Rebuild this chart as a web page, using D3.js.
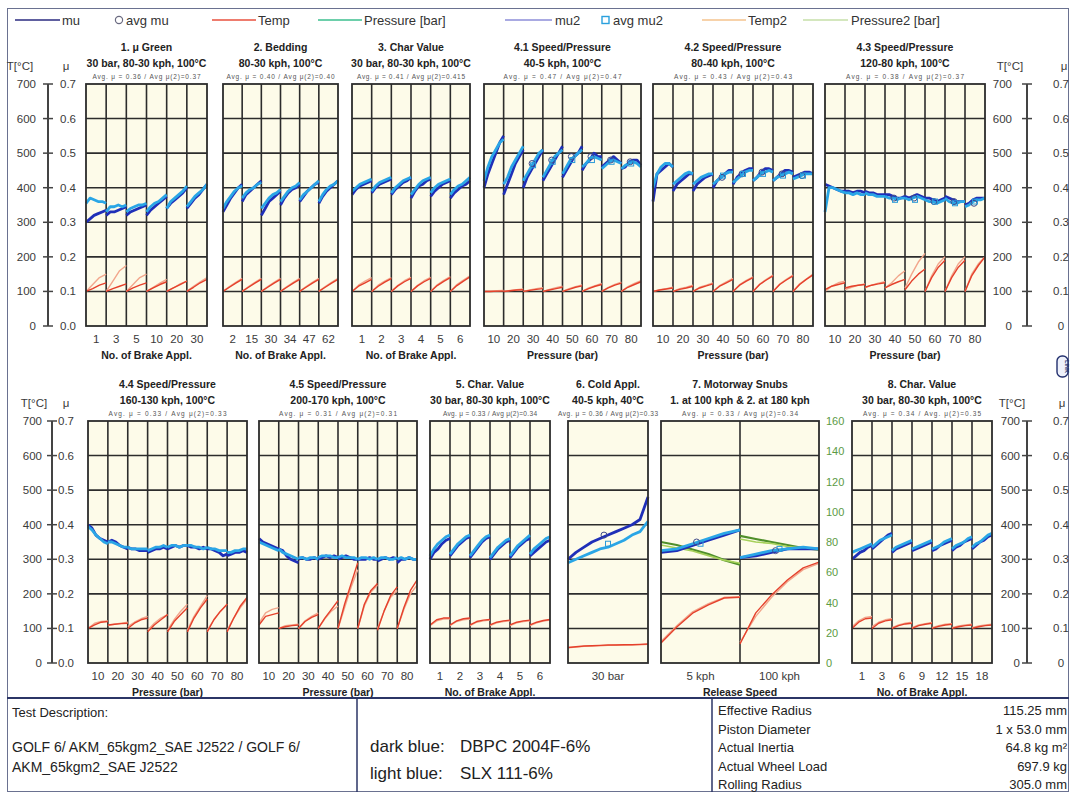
<!DOCTYPE html>
<html><head><meta charset="utf-8">
<script src="https://cdn.jsdelivr.net/npm/d3@7"></script>
<style>
body{margin:0;background:#fff}
svg{display:block;font-family:"Liberation Sans",Arial,sans-serif}
</style>
</head><body><script>
// ---------- brake test data: one inner array per column (brake application block) ----------
// 1. mu Green
const green_ticks = ['1','3','5','10','20','30'];
const green_mu  = [[0.30,0.31,0.32,0.325,0.33,0.335],[0.32,0.33,0.33,0.335,0.34,0.345],[0.32,0.33,0.335,0.34,0.345,0.35],[0.32,0.335,0.345,0.355,0.365,0.375],[0.34,0.355,0.365,0.375,0.385,0.40],[0.34,0.355,0.37,0.38,0.395,0.41]];
const green_mu2 = [[0.355,0.37,0.365,0.36,0.36,0.355],[0.33,0.345,0.345,0.35,0.345,0.35],[0.33,0.34,0.345,0.35,0.35,0.355],[0.33,0.345,0.355,0.36,0.37,0.38],[0.34,0.36,0.37,0.38,0.39,0.405],[0.345,0.36,0.375,0.385,0.395,0.41]];
const green_temp  = [[100,108,118,125],[100,108,115,122],[100,110,118,125],[100,110,120,128],[100,110,120,130],[100,112,125,135]];
const green_temp2 = [[100,120,140,150],[100,130,160,175],[100,120,140,150],[100,112,124,135],[100,110,122,130],[100,115,128,140]];
// 2. Bedding
const bed_ticks = ['2','15','30','34','47','62'];
const bed_mu  = [[0.33,0.35,0.37,0.385,0.40,0.41],[0.36,0.38,0.39,0.40,0.41,0.42],[0.32,0.34,0.36,0.37,0.38,0.39],[0.35,0.37,0.385,0.395,0.40,0.41],[0.36,0.375,0.39,0.40,0.41,0.415],[0.355,0.375,0.39,0.40,0.41,0.42]];
const bed_mu2 = [[0.34,0.36,0.375,0.39,0.40,0.405],[0.37,0.385,0.395,0.40,0.41,0.415],[0.34,0.355,0.37,0.38,0.385,0.395],[0.36,0.375,0.39,0.40,0.405,0.415],[0.365,0.38,0.39,0.40,0.41,0.42],[0.36,0.38,0.395,0.405,0.41,0.42]];
const bed_temp  = [[100,112,124,135],[100,112,124,135],[100,112,124,135],[100,112,124,135],[100,112,124,135],[100,112,124,135]];
const bed_temp2 = [[100,114,126,138],[100,114,126,138],[100,114,126,138],[100,114,126,138],[100,114,126,138],[100,114,126,138]];
// 3. Char Value
const char3_ticks = ['1','2','3','4','5','6'];
const char3_mu  = [[0.38,0.395,0.405,0.41,0.415,0.42],[0.385,0.40,0.41,0.415,0.42,0.425],[0.38,0.395,0.405,0.415,0.42,0.43],[0.37,0.39,0.405,0.41,0.42,0.425],[0.375,0.39,0.40,0.41,0.415,0.42],[0.37,0.385,0.395,0.405,0.41,0.42]];
const char3_mu2 = [[0.39,0.40,0.41,0.415,0.42,0.425],[0.39,0.405,0.415,0.42,0.425,0.43],[0.385,0.40,0.41,0.42,0.425,0.43],[0.38,0.395,0.41,0.42,0.425,0.43],[0.385,0.40,0.41,0.415,0.42,0.425],[0.38,0.395,0.405,0.41,0.42,0.43]];
const char3_temp  = [[100,115,125,135],[100,115,127,137],[100,116,128,138],[100,116,128,138],[100,117,129,140],[100,117,130,142]];
const char3_temp2 = [[100,118,130,140],[100,118,130,140],[100,118,131,141],[100,118,131,141],[100,119,132,143],[100,120,133,145]];
// 4.1 Speed/Pressure 40-5 kph
const pres_ticks = ['10','20','30','40','50','60','70','80'];
const sp41_mu  = [[0.40,0.44,0.47,0.50,0.53,0.55],[0.38,0.41,0.44,0.47,0.49,0.51],[0.40,0.43,0.45,0.47,0.49,0.51],[0.42,0.44,0.46,0.48,0.50,0.52],[0.43,0.45,0.47,0.49,0.50,0.52],[0.45,0.47,0.48,0.50,0.49,0.49],[0.46,0.47,0.48,0.49,0.48,0.47],[0.455,0.46,0.475,0.48,0.48,0.465]];
const sp41_mu2 = [[0.42,0.46,0.49,0.51,0.53,0.54],[0.41,0.43,0.46,0.48,0.50,0.52],[0.42,0.44,0.46,0.48,0.50,0.51],[0.43,0.45,0.47,0.49,0.50,0.51],[0.44,0.46,0.48,0.49,0.50,0.51],[0.46,0.47,0.485,0.49,0.485,0.48],[0.455,0.465,0.475,0.48,0.475,0.47],[0.455,0.465,0.47,0.475,0.47,0.46]];
const sp41_temp  = [[100,100,101,101],[100,102,104,105],[100,103,106,108],[100,104,108,112],[100,106,112,116],[100,108,115,120],[100,110,118,124],[100,112,120,128]];
const sp41_temp2 = [[100,101,102,103],[100,103,105,107],[100,104,108,111],[100,106,111,115],[100,108,114,119],[100,110,117,123],[100,112,120,127],[100,114,123,131]];
const sp41_avg  = [null,null,0.47,0.48,0.49,0.49,0.48,0.475];
const sp41_avg2 = [null,null,0.465,0.475,0.48,0.48,0.475,0.47];
// 4.2 Speed/Pressure 80-40 kph
const sp42_mu  = [[0.36,0.44,0.45,0.46,0.47,0.46],[0.39,0.41,0.42,0.43,0.44,0.44],[0.39,0.41,0.42,0.43,0.435,0.44],[0.40,0.42,0.43,0.44,0.45,0.45],[0.41,0.43,0.44,0.45,0.455,0.455],[0.42,0.43,0.445,0.455,0.455,0.45],[0.42,0.43,0.44,0.45,0.45,0.445],[0.43,0.435,0.44,0.445,0.445,0.44]];
const sp42_mu2 = [[0.40,0.44,0.46,0.47,0.47,0.46],[0.41,0.42,0.43,0.44,0.445,0.44],[0.41,0.42,0.43,0.435,0.44,0.44],[0.41,0.42,0.43,0.44,0.445,0.445],[0.415,0.425,0.435,0.445,0.45,0.45],[0.42,0.43,0.44,0.445,0.45,0.445],[0.42,0.43,0.435,0.44,0.445,0.44],[0.425,0.43,0.435,0.44,0.44,0.44]];
const sp42_temp  = [[100,104,107,110],[100,106,110,115],[100,110,116,122],[100,115,125,135],[100,118,130,140],[100,120,133,145],[100,120,133,145],[100,120,135,148]];
const sp42_temp2 = [[100,105,108,112],[100,108,112,118],[100,112,118,125],[100,117,128,138],[100,120,132,142],[100,121,135,147],[100,121,135,147],[100,122,136,150]];
const sp42_avg  = [null,null,null,0.43,0.44,0.445,0.44,0.435];
const sp42_avg2 = [null,null,null,0.435,0.44,0.44,0.435,0.435];
// 4.3 Speed/Pressure 120-80 kph
const sp43_mu  = [[0.41,0.405,0.40,0.395,0.39,0.39],[0.39,0.39,0.385,0.39,0.39,0.385],[0.39,0.385,0.385,0.38,0.38,0.38],[0.38,0.38,0.375,0.37,0.37,0.375],[0.375,0.37,0.375,0.38,0.375,0.37],[0.37,0.37,0.365,0.36,0.365,0.37],[0.375,0.37,0.365,0.36,0.36,0.36],[0.35,0.355,0.365,0.37,0.37,0.37]];
const sp43_mu2 = [[0.33,0.40,0.40,0.395,0.39,0.385],[0.385,0.385,0.38,0.385,0.38,0.38],[0.385,0.38,0.38,0.375,0.375,0.375],[0.375,0.37,0.37,0.365,0.37,0.37],[0.37,0.365,0.37,0.375,0.37,0.365],[0.365,0.36,0.36,0.355,0.36,0.365],[0.37,0.36,0.355,0.355,0.36,0.36],[0.345,0.35,0.36,0.365,0.365,0.37]];
const sp43_temp  = [[105,115,120,125],[110,115,118,120],[112,118,122,125],[110,120,128,135],[105,130,150,165],[100,140,170,190],[100,140,170,190],[100,145,175,200]];
const sp43_temp2 = [[100,115,125,130],[105,112,118,122],[110,118,124,128],[110,125,145,160],[110,150,185,210],[100,145,180,200],[100,145,180,200],[100,150,180,200]];
const sp43_avg  = [null,null,null,0.37,0.37,0.36,0.36,0.355];
const sp43_avg2 = [null,null,null,0.365,0.365,0.36,0.355,0.36];
// 4.4 Speed/Pressure 160-130 kph
const sp44_mu  = [[0.40,0.39,0.37,0.36,0.355,0.35],[0.35,0.355,0.35,0.34,0.335,0.33],[0.335,0.33,0.33,0.325,0.325,0.325],[0.32,0.325,0.33,0.33,0.335,0.33],[0.33,0.335,0.34,0.335,0.34,0.34],[0.34,0.335,0.335,0.33,0.335,0.33],[0.33,0.33,0.325,0.32,0.31,0.315],[0.31,0.315,0.32,0.32,0.325,0.32]];
const sp44_mu2 = [[0.395,0.385,0.37,0.36,0.35,0.345],[0.35,0.35,0.345,0.34,0.335,0.335],[0.335,0.33,0.33,0.33,0.33,0.33],[0.325,0.33,0.335,0.335,0.34,0.335],[0.335,0.34,0.34,0.335,0.34,0.34],[0.34,0.34,0.335,0.335,0.33,0.335],[0.335,0.33,0.33,0.325,0.325,0.325],[0.32,0.32,0.325,0.325,0.33,0.33]];
const sp44_temp  = [[100,110,118,120],[110,112,114,115],[100,115,125,130],[90,110,125,140],[90,120,140,160],[90,130,160,185],[90,125,150,170],[90,130,165,190]];
const sp44_temp2 = [[100,115,120,122],[108,112,115,118],[105,118,128,135],[95,115,130,140],[95,125,150,170],[95,135,165,195],[95,125,150,170],[95,130,160,185]];
// 4.5 Speed/Pressure 200-170 kph
const sp45_mu  = [[0.36,0.35,0.345,0.34,0.335,0.33],[0.33,0.325,0.31,0.30,0.295,0.29],[0.30,0.305,0.30,0.30,0.305,0.30],[0.30,0.305,0.31,0.305,0.31,0.305],[0.30,0.305,0.31,0.305,0.30,0.30],[0.30,0.30,0.30,0.305,0.30,0.30],[0.295,0.30,0.305,0.30,0.305,0.30],[0.29,0.30,0.30,0.305,0.30,0.30]];
const sp45_mu2 = [[0.35,0.345,0.34,0.335,0.33,0.325],[0.33,0.32,0.315,0.31,0.305,0.30],[0.305,0.305,0.30,0.305,0.305,0.30],[0.305,0.31,0.31,0.31,0.305,0.305],[0.305,0.31,0.305,0.305,0.305,0.30],[0.30,0.305,0.305,0.30,0.305,0.30],[0.30,0.305,0.305,0.30,0.30,0.305],[0.30,0.305,0.30,0.305,0.30,0.30]];
const sp45_temp  = [[110,135,140,145],[100,105,108,110],[100,120,132,140],[100,130,155,180],[100,170,230,290],[100,170,210,230],[95,150,195,220],[100,160,210,240]];
const sp45_temp2 = [[115,145,155,160],[100,108,110,112],[100,122,135,145],[100,128,150,165],[100,160,220,270],[100,165,205,225],[100,150,190,210],[100,155,200,225]];
// 5. Char. Value
const char5_ticks = ['1','2','3','4','5','6'];
const char5_mu  = [[0.30,0.32,0.33,0.345,0.355,0.36],[0.31,0.325,0.34,0.35,0.36,0.365],[0.305,0.32,0.335,0.35,0.36,0.365],[0.30,0.315,0.33,0.34,0.35,0.355],[0.305,0.32,0.335,0.345,0.355,0.36],[0.31,0.32,0.33,0.34,0.35,0.355]];
const char5_mu2 = [[0.31,0.33,0.345,0.355,0.365,0.37],[0.315,0.33,0.345,0.355,0.365,0.37],[0.31,0.325,0.34,0.355,0.365,0.37],[0.305,0.32,0.335,0.345,0.355,0.36],[0.31,0.325,0.34,0.35,0.36,0.37],[0.315,0.33,0.34,0.35,0.36,0.365]];
const char5_temp  = [[110,125,130,130],[110,122,128,130],[110,120,124,126],[110,118,122,124],[110,118,122,124],[110,118,123,126]];
const char5_temp2 = [[108,122,127,128],[108,120,125,127],[108,118,122,124],[108,116,120,122],[108,116,120,122],[108,116,121,124]];
// 6. Cold Appl.
const cold_ticks = ['30 bar'];
const cold_mu  = [[0.30,0.32,0.335,0.35,0.36,0.37,0.38,0.39,0.40,0.415,0.48]];
const cold_mu2 = [[0.29,0.30,0.31,0.32,0.33,0.335,0.345,0.355,0.37,0.38,0.41]];
const cold_temp  = [[45,47,49,50,51,52,52,53,53,54,55]];
const cold_temp2 = [[44,46,48,49,50,51,52,52,53,53,54]];
const cold_avg  = [0.37];
const cold_avg2 = [0.345];
// 7. Motorway Snubs
const snub_ticks = ['5 kph','100 kph'];
const snub_mu  = [[0.32,0.325,0.34,0.355,0.37,0.385],[0.305,0.31,0.32,0.33,0.33,0.33]];
const snub_mu2 = [[0.325,0.33,0.345,0.36,0.375,0.385],[0.305,0.315,0.325,0.33,0.335,0.33]];
const snub_temp  = [[58,104,144,168,188,190],[55,145,197,240,275,292]];
const snub_temp2 = [[62,108,148,172,190,192],[60,135,190,235,270,288]];
const snub_pres  = [[80,78,75,72,68,65],[84,82,80,78,76,75]];
const snub_pres2 = [[78,76,74,71,68,66],[82,80,79,77,76,75]];
const snub_avg  = [0.35,0.325];
const snub_avg2 = [0.345,0.33];
// 8. Char. Value
const char8_ticks = ['1','3','6','9','12','15','18'];
const char8_mu  = [[0.30,0.31,0.32,0.325,0.335,0.34],[0.33,0.34,0.35,0.36,0.37,0.375],[0.32,0.33,0.335,0.34,0.345,0.35],[0.325,0.33,0.335,0.34,0.345,0.35],[0.325,0.33,0.34,0.345,0.35,0.355],[0.325,0.335,0.34,0.35,0.355,0.36],[0.33,0.34,0.35,0.355,0.365,0.37]];
const char8_mu2 = [[0.32,0.325,0.33,0.335,0.34,0.345],[0.335,0.345,0.355,0.36,0.365,0.37],[0.325,0.335,0.34,0.345,0.35,0.355],[0.33,0.335,0.34,0.345,0.35,0.355],[0.33,0.335,0.34,0.35,0.355,0.36],[0.33,0.34,0.345,0.35,0.36,0.365],[0.335,0.345,0.35,0.36,0.37,0.375]];
const char8_temp  = [[100,118,128,130],[100,115,122,125],[100,108,113,115],[100,108,112,115],[100,106,110,112],[100,105,108,110],[100,105,108,110]];
const char8_temp2 = [[105,122,132,135],[105,118,125,128],[102,110,115,118],[102,110,114,117],[102,108,112,114],[102,107,110,112],[102,107,110,112]];

// axis tick labels
const tempTicks = [0,100,200,300,400,500,600,700];
const muTicksLeft  = ['0.0','0.1','0.2','0.3','0.4','0.5','0.6','0.7'];
const muTicksRight = ['0','0.1','0.2','0.3','0.4','0.5','0.6','0.7'];
const presTicks = [0,20,40,60,80,100,120,140,160];

// ---------- styles ----------
const C = {
  mu:'#1f2fb8', mu2:'#2aa6e6', temp:'#e5412c', temp2:'#f2a68c',
  pres:'#4f8f2a', pres2:'#a6d05a', grid:'#2c2c2c', bg:'#fdfbe9', text:'#333'
};
const ROWS = [{y0:84, y1:326}, {y0:421, y1:663}];

const panels = [
 {row:0,x0:86, x1:207, aw:108, t:['1. μ Green','30 bar, 80-30 kph, 100°C'], avg:'Avg. μ = 0.36 / Avg μ(2)=0.37', ticks:green_ticks, xt:'No. of Brake Appl.', mu:green_mu, mu2:green_mu2, temp:green_temp, temp2:green_temp2},
 {row:0,x0:223,x1:338, aw:108, t:['2. Bedding','80-30 kph, 100°C'], avg:'Avg. μ = 0.40 / Avg μ(2)=0.40', ticks:bed_ticks, xt:'No. of Brake Appl.', mu:bed_mu, mu2:bed_mu2, temp:bed_temp, temp2:bed_temp2},
 {row:0,x0:352,x1:470, aw:108, t:['3. Char Value','30 bar, 80-30 kph, 100°C'], avg:'Avg. μ = 0.41 / Avg μ(2)=0.415', ticks:char3_ticks, xt:'No. of Brake Appl.', mu:char3_mu, mu2:char3_mu2, temp:char3_temp, temp2:char3_temp2},
 {row:0,x0:484,x1:641, aw:118, t:['4.1 Speed/Pressure','40-5 kph, 100°C'], avg:'Avg. μ = 0.47 / Avg μ(2)=0.47', ticks:pres_ticks, xt:'Pressure (bar)', mu:sp41_mu, mu2:sp41_mu2, temp:sp41_temp, temp2:sp41_temp2, avgMu:sp41_avg, avgMu2:sp41_avg2},
 {row:0,x0:653,x1:813, aw:118, t:['4.2 Speed/Pressure','80-40 kph, 100°C'], avg:'Avg. μ = 0.43 / Avg μ(2)=0.43', ticks:pres_ticks, xt:'Pressure (bar)', mu:sp42_mu, mu2:sp42_mu2, temp:sp42_temp, temp2:sp42_temp2, avgMu:sp42_avg, avgMu2:sp42_avg2},
 {row:0,x0:825,x1:985, aw:118, t:['4.3 Speed/Pressure','120-80 kph, 100°C'], avg:'Avg. μ = 0.38 / Avg μ(2)=0.37', ticks:pres_ticks, xt:'Pressure (bar)', mu:sp43_mu, mu2:sp43_mu2, temp:sp43_temp, temp2:sp43_temp2, avgMu:sp43_avg, avgMu2:sp43_avg2},
 {row:1,x0:88, x1:247, aw:118, t:['4.4 Speed/Pressure','160-130 kph, 100°C'], avg:'Avg. μ = 0.33 / Avg μ(2)=0.33', ticks:pres_ticks, xt:'Pressure (bar)', mu:sp44_mu, mu2:sp44_mu2, temp:sp44_temp, temp2:sp44_temp2},
 {row:1,x0:259,x1:417, aw:118, t:['4.5 Speed/Pressure','200-170 kph, 100°C'], avg:'Avg. μ = 0.31 / Avg μ(2)=0.31', ticks:pres_ticks, xt:'Pressure (bar)', mu:sp45_mu, mu2:sp45_mu2, temp:sp45_temp, temp2:sp45_temp2},
 {row:1,x0:430,x1:550, aw:94,  t:['5. Char. Value','30 bar, 80-30 kph, 100°C'], avg:'Avg. μ = 0.33 / Avg μ(2)=0.34', ticks:char5_ticks, xt:'No. of Brake Appl.', mu:char5_mu, mu2:char5_mu2, temp:char5_temp, temp2:char5_temp2},
 {row:1,x0:568,x1:648, aw:100, t:['6. Cold Appl.','40-5 kph, 40°C'], avg:'Avg. μ = 0.36 / Avg μ(2)=0.33', ticks:cold_ticks, xt:'', mu:cold_mu, mu2:cold_mu2, temp:cold_temp, temp2:cold_temp2, avgMu:cold_avg, avgMu2:cold_avg2},
 {row:1,x0:661,x1:819, aw:116, t:['7. Motorway Snubs','1. at 100 kph & 2. at 180 kph'], avg:'Avg. μ = 0.33 / Avg μ(2)=0.34', ticks:snub_ticks, xt:'Release Speed', mu:snub_mu, mu2:snub_mu2, temp:snub_temp, temp2:snub_temp2, pres:snub_pres, pres2:snub_pres2, avgMu:snub_avg, avgMu2:snub_avg2},
 {row:1,x0:852,x1:992, aw:118, t:['8. Char. Value','30 bar, 80-30 kph, 100°C'], avg:'Avg. μ = 0.34 / Avg. μ(2)=0.35', ticks:char8_ticks, xt:'No. of Brake Appl.', mu:char8_mu, mu2:char8_mu2, temp:char8_temp, temp2:char8_temp2}
];

const W = 1072, H = 792;
const svg = d3.select('body').append('svg').attr('width', W).attr('height', H);
svg.append('rect').attr('width', W).attr('height', H).attr('fill', '#fff');

// outer frame
svg.append('rect').attr('x', 7.5).attr('y', 8.5).attr('width', 1061).attr('height', 783)
  .attr('fill', 'none').attr('stroke', '#6a7190').attr('stroke-width', 1);

// ---------- legend ----------
const lg = svg.append('g').attr('font-size', 13).attr('fill', C.text);
const legendLines = [
  {x1:15, x2:60, c:'#2b2b80', label:'mu', lx:62},
  {x1:212,x2:256,c:'#e8503e', label:'Temp', lx:258},
  {x1:318,x2:362,c:'#3cbf8f', label:'Pressure [bar]', lx:364},
  {x1:505,x2:552,c:'#8c8ed8', label:'mu2', lx:555},
  {x1:702,x2:746,c:'#f5c38e', label:'Temp2', lx:748},
  {x1:803,x2:848,c:'#c6dfa8', label:'Pressure2 [bar]', lx:851}
];
legendLines.forEach(d => {
  lg.append('line').attr('x1', d.x1).attr('x2', d.x2).attr('y1', 20).attr('y2', 20)
    .attr('stroke', d.c).attr('stroke-width', 1.6);
  lg.append('text').attr('x', d.lx).attr('y', 24.5).text(d.label);
});
lg.append('circle').attr('cx', 119).attr('cy', 20).attr('r', 3.6).attr('fill', 'none').attr('stroke', '#6a6a80').attr('stroke-width', 1.2);
lg.append('text').attr('x', 126).attr('y', 24.5).text('avg mu');
lg.append('rect').attr('x', 602).attr('y', 16.5).attr('width', 7).attr('height', 7).attr('fill', 'none').attr('stroke', '#2aa0dd').attr('stroke-width', 1.4);
lg.append('text').attr('x', 613).attr('y', 24.5).text('avg mu2');

// ---------- side axes (temperature and friction coefficient) ----------
function sideAxis(row, axX, tX, muX, tHeadX, muHeadX, muLabels, tAnchor) {
  const r = ROWS[row];
  const yT = d3.scaleLinear().domain([0, 700]).range([r.y1, r.y0]);
  const g = svg.append('g').attr('font-size', 11.5).attr('fill', '#3a3a3a');
  g.append('line').attr('x1', axX).attr('x2', axX).attr('y1', yT(700)).attr('y2', yT(0))
    .attr('stroke', '#444').attr('stroke-width', 2);
  tempTicks.forEach((t, i) => {
    g.append('line').attr('x1', axX - 5).attr('x2', axX + 5).attr('y1', yT(t)).attr('y2', yT(t))
      .attr('stroke', '#444').attr('stroke-width', 1.5);
    g.append('text').attr('x', tX).attr('y', yT(t) + 4).attr('text-anchor', tAnchor).text(t);
    g.append('text').attr('x', muX).attr('y', yT(t) + 4).attr('text-anchor', 'middle').text(muLabels[i]);
  });
  g.append('text').attr('x', tHeadX).attr('y', r.y0 - 14).attr('text-anchor', 'middle').text('T[°C]');
  g.append('text').attr('x', muHeadX).attr('y', r.y0 - 14).attr('text-anchor', 'middle').text('μ');
}
sideAxis(0, 48, 36, 68, 20, 66, muTicksLeft, 'end');
sideAxis(1, 52, 42, 66, 34, 66, muTicksLeft, 'end');
sideAxis(0, 1027, 1012, 1061, 1010, 1064, muTicksRight, 'end');
sideAxis(1, 1027, 1020, 1061, 1012, 1062, muTicksRight, 'end');

// ---------- panels ----------
panels.forEach(p => {
  const r = ROWS[p.row];
  const n = p.ticks.length;
  const x = d3.scaleLinear().domain([0, n]).range([p.x0, p.x1]);
  const yMu = d3.scaleLinear().domain([0, 0.7]).range([r.y1, r.y0]);
  const yT = d3.scaleLinear().domain([0, 700]).range([r.y1, r.y0]);
  const yP = d3.scaleLinear().domain([0, 160]).range([r.y1, r.y0]);
  const g = svg.append('g');
  const cx = (p.x0 + p.x1) / 2;

  g.append('rect').attr('x', p.x0).attr('y', r.y0).attr('width', p.x1 - p.x0).attr('height', r.y1 - r.y0)
    .attr('fill', C.bg);

  // grid
  d3.range(1, 7).forEach(k => {
    g.append('line').attr('x1', p.x0).attr('x2', p.x1).attr('y1', yMu(k / 10)).attr('y2', yMu(k / 10))
      .attr('stroke', C.grid).attr('stroke-width', 1.6);
  });
  d3.range(1, n).forEach(k => {
    g.append('line').attr('x1', x(k)).attr('x2', x(k)).attr('y1', r.y0).attr('y2', r.y1)
      .attr('stroke', C.grid).attr('stroke-width', 1.6);
  });

  // one curve per column, points spread evenly across the column
  const colLine = (yScale, col) => d3.line()
    .x((d, i, arr) => x(col + i / (arr.length - 1)))
    .y(d => yScale(d));
  const drawSeries = (series, yScale, color, width) => {
    series.forEach((vals, col) => {
      g.append('path').attr('d', colLine(yScale, col)(vals)).attr('fill', 'none')
        .attr('stroke', color).attr('stroke-width', width).attr('stroke-linejoin', 'round');
    });
  };
  drawSeries(p.temp2, yT, C.temp2, 1.4);
  drawSeries(p.temp, yT, C.temp, 1.4);
  if (p.pres) {
    drawSeries(p.pres, yP, C.pres, 2.2);
    drawSeries(p.pres2, yP, C.pres2, 1.6);
  }
  drawSeries(p.mu, yMu, C.mu, 2.8);
  drawSeries(p.mu2, yMu, C.mu2, 2.8);

  // averages per column
  if (p.avgMu) {
    p.avgMu.forEach((v, col) => {
      if (v == null) return;
      g.append('circle').attr('cx', x(col + 0.45)).attr('cy', yMu(v)).attr('r', 3)
        .attr('fill', 'none').attr('stroke', '#404a8a').attr('stroke-width', 1);
    });
    p.avgMu2.forEach((v, col) => {
      if (v == null) return;
      g.append('rect').attr('x', x(col + 0.5) - 2.5).attr('y', yMu(v) - 2.5).attr('width', 5).attr('height', 5)
        .attr('fill', 'none').attr('stroke', '#2a9ad8').attr('stroke-width', 1);
    });
  }

  // frame
  g.append('rect').attr('x', p.x0).attr('y', r.y0).attr('width', p.x1 - p.x0).attr('height', r.y1 - r.y0)
    .attr('fill', 'none').attr('stroke', C.grid).attr('stroke-width', 1.8);

  // titles
  g.append('text').attr('x', cx).attr('y', r.y0 - 33).attr('text-anchor', 'middle')
    .attr('font-size', 10.5).attr('font-weight', 'bold').attr('fill', '#222').text(p.t[0]);
  g.append('text').attr('x', cx).attr('y', r.y0 - 17).attr('text-anchor', 'middle')
    .attr('font-size', 10.5).attr('font-weight', 'bold').attr('fill', '#222').text(p.t[1]);
  g.append('text').attr('x', cx).attr('y', r.y0 - 5).attr('text-anchor', 'middle')
    .attr('font-size', 6.5).attr('fill', '#555')
    .attr('textLength', p.aw).attr('lengthAdjust', 'spacing').text(p.avg);

  // x tick labels and title
  p.ticks.forEach((t, k) => {
    g.append('text').attr('x', x(k + 0.5)).attr('y', r.y1 + 17).attr('text-anchor', 'middle')
      .attr('font-size', 11.5).attr('fill', '#3a3a3a').text(t);
  });
  if (p.xt) {
    g.append('text').attr('x', cx).attr('y', r.y1 + 33).attr('text-anchor', 'middle')
      .attr('font-size', 10.5).attr('font-weight', 'bold').attr('fill', '#222').text(p.xt);
  }
});

// pressure axis labels of the motorway snub panel
(() => {
  const r = ROWS[1];
  const yP = d3.scaleLinear().domain([0, 160]).range([r.y1, r.y0]);
  const g = svg.append('g').attr('font-size', 11).attr('fill', '#5c9a44');
  presTicks.forEach(v => {
    g.append('text').attr('x', 826).attr('y', yP(v) + 4).text(v);
  });
})();

// link badge
(() => {
  const g = svg.append('g');
  g.append('rect').attr('x', 1057).attr('y', 356).attr('width', 11).attr('height', 21).attr('rx', 5)
    .attr('fill', '#eef1fb').attr('stroke', '#23306e').attr('stroke-width', 1.4);
  g.append('text').attr('transform', 'translate(1064.5,366.5) rotate(90)').attr('text-anchor', 'middle')
    .attr('font-size', 5.5).attr('font-weight', 'bold').attr('fill', '#23306e').text('LINK');
})();

// ---------- info box ----------
(() => {
  const g = svg.append('g');
  const line = (x1, y1, x2, y2, w) => g.append('line').attr('x1', x1).attr('y1', y1).attr('x2', x2).attr('y2', y2)
    .attr('stroke', '#2b3566').attr('stroke-width', w);
  line(7, 698, 1069, 698, 2);
  line(357, 698, 357, 792, 1.5);
  line(712, 698, 712, 792, 1.5);
  const narrow = '"Liberation Sans Narrow","Arial Narrow","Liberation Sans",Arial,sans-serif';
  const t = (x, y, s, size, anchor) => g.append('text').attr('x', x).attr('y', y).attr('font-size', size)
    .attr('font-family', narrow).attr('fill', '#222').attr('text-anchor', anchor || 'start').text(s);
  t(12, 717, 'Test Description:', 13);
  t(12, 752, 'GOLF 6/ AKM_65kgm2_SAE J2522 / GOLF 6/', 14);
  t(12, 772, 'AKM_65kgm2_SAE J2522', 14);
  t(370, 752, 'dark blue:', 17);
  t(460, 752, 'DBPC 2004F-6%', 17);
  t(370, 779, 'light blue:', 17);
  t(460, 779, 'SLX 111-6%', 17);
  const specLabels = ['Effective Radius','Piston Diameter','Actual Inertia','Actual Wheel Load','Rolling Radius'];
  const specValues = ['115.25 mm','1 x 53.0 mm','64.8 kg m²','697.9 kg','305.0 mm'];
  specLabels.forEach((s, i) => {
    t(718, 715 + i * 18.5, s, 13);
    t(1067, 715 + i * 18.5, specValues[i], 13, 'end');
  });
})();
</script></body></html>
